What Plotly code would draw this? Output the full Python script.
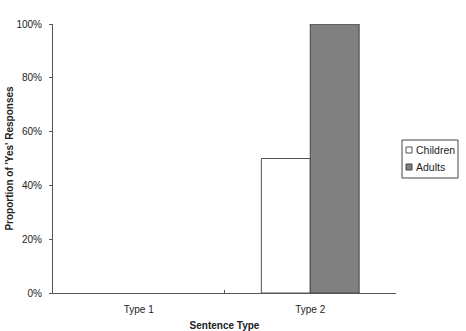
import plotly.graph_objects as go

categories = ["Type 1", "Type 2"]
children = [0, 50]
adults = [0, 100]
y_ticks = [0, 20, 40, 60, 80, 100]
y_tick_labels = ["0%", "20%", "40%", "60%", "80%", "100%"]
series_names = ["Children", "Adults"]

W, H = 466, 331
ML, MR, MT, MB = 53, 70, 24, 38
PW, PH = W - ML - MR, H - MT - MB

def px_x(px):
    return (px - ML) / PW

def px_y(py):
    return (H - MB - py) / PH

fills = ["white", "#808080"]
edges = ["#555555", "#444444"]

fig = go.Figure()
for name, vals, fc, ec in zip(series_names, [children, adults], fills, edges):
    fig.add_trace(go.Bar(name=name, x=categories, y=vals, showlegend=False,
                         marker=dict(color=fc, line=dict(color=ec,
                                     width=[1 if v > 0 else 0 for v in vals]))))

font = "Liberation Sans, Arial, sans-serif"

# custom compact legend
shapes = [dict(type="rect", xref="paper", yref="paper",
               x0=px_x(402), x1=px_x(458), y0=px_y(178), y1=px_y(140),
               line=dict(color="#444444", width=1), fillcolor="white")]
annotations = []
for i, (name, fc, ec) in enumerate(zip(series_names, fills, edges)):
    cy = 150 + i * 17
    shapes.append(dict(type="rect", xref="paper", yref="paper",
                       x0=px_x(406), x1=px_x(412), y0=px_y(cy + 3), y1=px_y(cy - 3),
                       line=dict(color=ec, width=1), fillcolor=fc))
    annotations.append(dict(text=name, xref="paper", yref="paper",
                            x=px_x(414), y=px_y(cy), xanchor="left", yanchor="middle",
                            showarrow=False, font=dict(size=10.5, color="#222222")))

fig.update_layout(
    width=W, height=H,
    margin=dict(l=ML, r=MR, t=MT, b=MB, autoexpand=False),
    paper_bgcolor="white", plot_bgcolor="white",
    barmode="group", bargap=0.43, bargroupgap=0,
    font=dict(family=font, size=10, color="#222222"),
    showlegend=False,
    shapes=shapes, annotations=annotations,
    xaxis=dict(showline=True, linecolor="#555555", linewidth=1,
               ticks="inside", ticklen=3, tickcolor="#555555", tickson="boundaries",
               showgrid=False, zeroline=False, automargin=False,
               ticklabelstandoff=7,
               title=dict(text="<b>Sentence Type</b>", font=dict(size=10), standoff=17)),
    yaxis=dict(range=[0, 100], tickvals=y_ticks, ticktext=y_tick_labels,
               showline=True, linecolor="#555555", linewidth=1,
               ticks="outside", ticklen=3, tickcolor="#555555",
               showgrid=False, zeroline=False, automargin=False,
               ticklabelstandoff=5,
               title=dict(text="<b>Proportion of 'Yes' Responses</b>", font=dict(size=10), standoff=0)),
)

fig.write_html("out.html")
